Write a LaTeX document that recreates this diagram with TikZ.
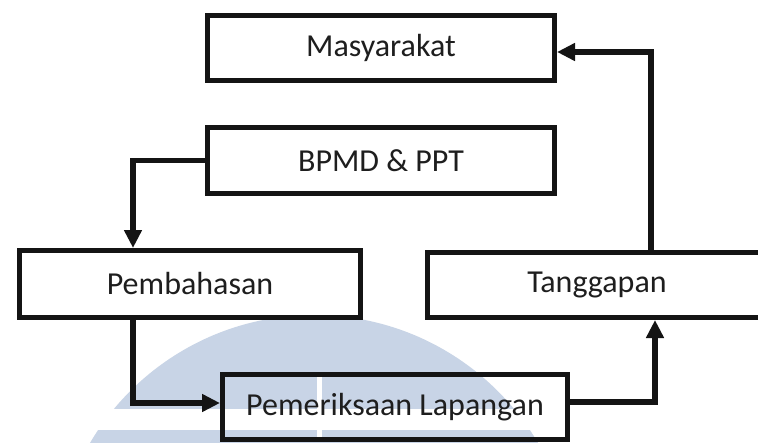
\documentclass[tikz,border=0pt]{standalone}
\usepackage{fontspec}
\setmainfont{Carlito}
\usetikzlibrary{arrows.meta}
\definecolor{wm}{RGB}{200,212,230}
\definecolor{ink}{RGB}{20,20,20}
\definecolor{txt}{RGB}{30,30,30}
\tikzset{
  box/.style={draw=ink, line width=5pt, minimum width=347pt, minimum height=65pt,
    inner sep=0pt, text=txt, font=\fontsize{32}{38}\selectfont},
  conn/.style={draw=ink, line width=5.5pt, -{Triangle[length=18pt,width=17pt]}}
}
\begin{document}
\begin{tikzpicture}[x=1pt,y=-1pt]
\useasboundingbox (0,0) rectangle (758,442);
\clip (0,0) rectangle (758,442);
\fill[white] (0,0) rectangle (758,442);
% watermark
\begin{scope}
  \clip (0,0) rectangle (758,408);
  \fill[wm] (314,575) circle (260pt);
\end{scope}
\begin{scope}
  \clip (0,430) rectangle (758,442);
  \fill[wm] (314,575) circle (260pt);
\end{scope}
\fill[white] (317,372) rectangle (322,442);
% boxes
\node[box] (mas) at (381,48) {Masyarakat};
\node[box, minimum height=66pt] (bpmd) at (381,160.5) {BPMD \& PPT};
\node[box, minimum height=67pt, minimum width=341pt] (pemb) at (190,284) {Pembahasan};
\node[box, minimum width=339pt] (tang) at (597,285) {Tanggapan};
\node[box, minimum width=345pt] (peme) at (395,407) {Pemeriksaan Lapangan};
% connectors
\draw[conn] (bpmd.west) -| ([xshift=-57pt]pemb.north);
\draw[conn] ([xshift=-57pt]pemb.south) |- ([yshift=4pt]peme.west);
\draw[conn] ([yshift=5pt]peme.east) -| ([xshift=58pt]tang.south);
\draw[conn] ([xshift=54pt]tang.north) |- ([yshift=-4pt]mas.east);
\end{tikzpicture}
\end{document}
